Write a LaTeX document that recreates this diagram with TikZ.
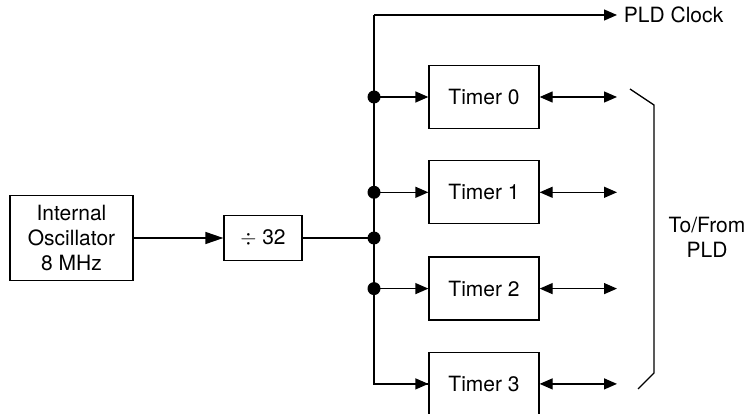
\documentclass[tikz,border=0pt]{standalone}
\usepackage{fontspec}
\setmainfont{TeX Gyre Heros}
\usepackage{tikz}
\usetikzlibrary{positioning,arrows.meta}

\tikzset{
	block/.style={draw, line width=1.3pt, minimum width=110pt, minimum height=63pt, inner sep=0pt, align=center},
	tip/.style={-{Triangle[length=13pt,width=11pt]}},
	dtip/.style={{Triangle[length=13pt,width=11pt]}-{Triangle[length=13pt,width=11pt]}},
	dot/.style={circle, fill, inner sep=0pt, minimum size=13pt}
}

\begin{document}
\begin{tikzpicture}[x=1pt, y=-1pt, line width=1.3pt, font=\fontsize{21}{25}\selectfont]
	\useasboundingbox (0,0) rectangle (749,414);
	
	\node[block, minimum width=123pt, minimum height=85pt] (osc) at (71.5,238) {Internal\\Oscillator\\8 MHz};
	\node[block, minimum width=78pt, minimum height=45pt] (div) at (263,238) {$\div$ 32};
	
	\node[block] (t0) at (484,97) {Timer 0};
	\node[block, below=31pt of t0] (t1) {Timer 1};
	\node[block, below=32pt of t1] (t2) {Timer 2};
	\node[block, below=31pt of t2] (t3) {Timer 3};
	
	% bus
	\coordinate (top) at (374,15);
	\coordinate (mid) at (374,238);
	\coordinate (clk) at (617,15);
	\draw (top) |- (t3.west);
	\draw[tip] (top) -- (clk) node[right=3pt, anchor=west] (clklabel) {PLD Clock};
	\draw[-{Triangle[length=18pt,width=12pt]}] (osc) -- (div);
	\draw (div) -- (mid);
	\node[dot] at (mid) {};
	
	\foreach \t in {t0,t1,t2}{
		\node[dot] (d\t) at (top |- \t.west) {};
		\draw[tip] (d\t.center) -- (\t.west);
	}
	\draw[tip] (top |- t3.west) -- (t3.west);
	
	\foreach \t in {t0,t1,t2,t3}{
		\coordinate (e\t) at (617,0 |- \t.east);
		\draw[dtip] (\t.east) -- (e\t);
	}
	
	% bracket
	\draw (630,89) -- (654,105) -- (654,373) -- (638,389);
	\node (pld) at (707,237) [align=center] {To/From\\PLD};
\end{tikzpicture}
\end{document}
